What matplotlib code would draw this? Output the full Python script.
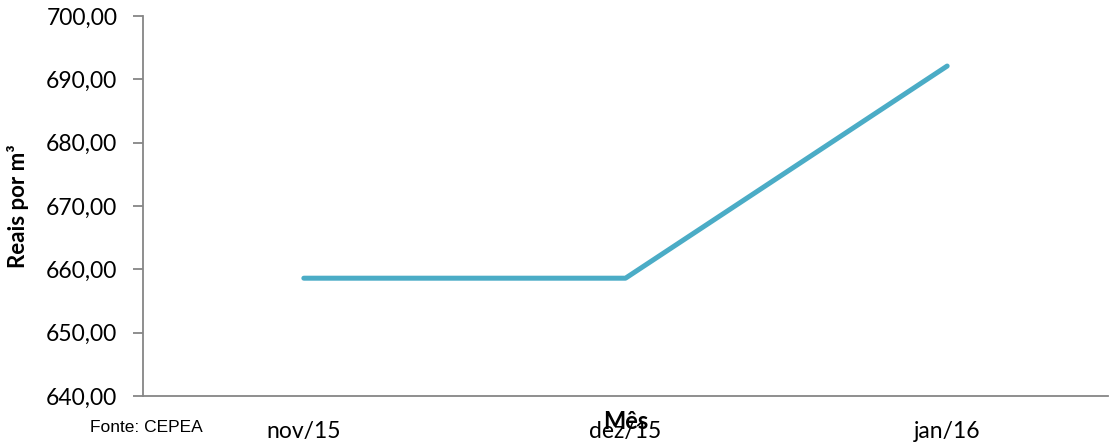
import matplotlib.pyplot as plt
from matplotlib.ticker import FuncFormatter

# dados
meses = ["nov/15", "dez/15", "jan/16"]
precos = [658.6, 658.6, 692.1]
y_ticks = [640, 650, 660, 670, 680, 690, 700]

plt.rcParams["font.family"] = ["Lato", "DejaVu Sans"]

fig = plt.figure(figsize=(11.13, 4.43), dpi=100)
ax = fig.add_axes([143 / 1113, 47 / 443, 965 / 1113, 380 / 443])

x = range(len(meses))
ax.plot(x, precos, color="#4BACC6", lw=3.6, solid_capstyle="round")

ax.set_xlim(-0.5, len(meses) - 0.5)
ax.set_ylim(640, 700)
ax.set_yticks(y_ticks)
ax.yaxis.set_major_formatter(FuncFormatter(lambda v, p: f"{v:.2f}".replace(".", ",")))
ax.set_xticks(list(x))
ax.set_xticklabels(meses)

for s in ["top", "right"]:
    ax.spines[s].set_visible(False)
for s in ["left", "bottom"]:
    ax.spines[s].set_color("#868686")
    ax.spines[s].set_linewidth(1.3)

ax.tick_params(axis="y", length=7.5, width=1.3, color="#868686", labelsize=16.5, pad=11)
ax.tick_params(axis="x", length=0, labelsize=16.5, pad=18)

ax.set_ylabel("Reais por m³", fontsize=16, fontweight="bold")
ax.yaxis.set_label_coords(-0.118, 0.5)
ax.text(0.5, -0.068, "Mês", transform=ax.transAxes, ha="center", va="center",
        fontsize=17, fontweight="bold")

fig.text(90 / 1113, 1 - 428 / 443, "Fonte: CEPEA", ha="left", va="center",
         fontsize=12.5, family=["Liberation Sans Narrow", "Liberation Sans"])

fig.savefig("out.png", dpi=100)
